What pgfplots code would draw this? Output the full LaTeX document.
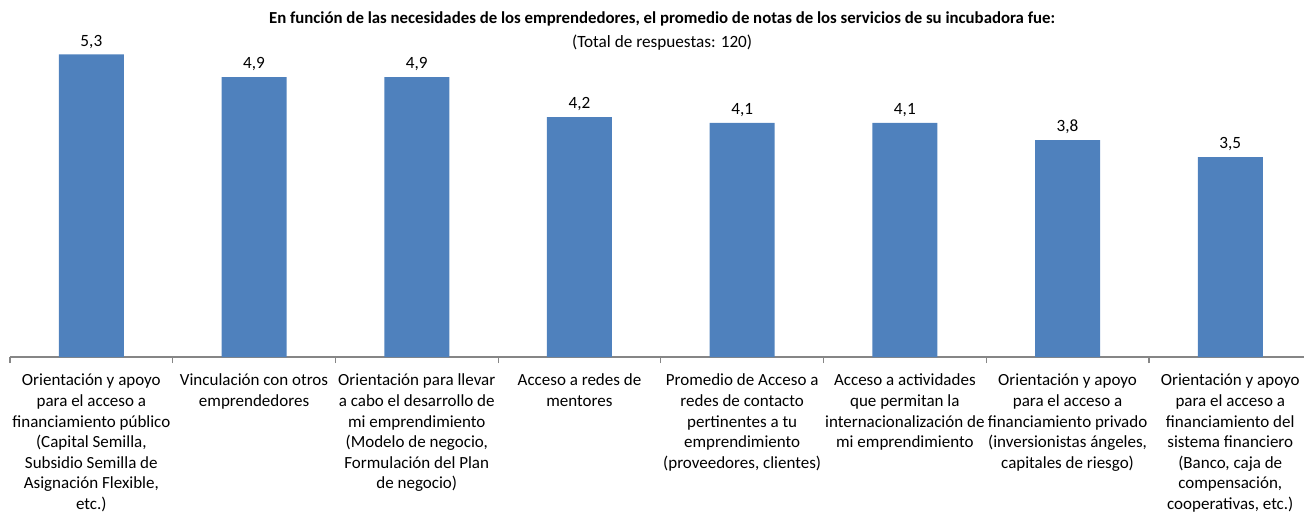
\documentclass[border=0pt]{standalone}
\usepackage{fontspec}
\setmainfont{Carlito}
\usepackage{pgfplots}
\pgfplotsset{compat=1.18}
\definecolor{barblue}{HTML}{4F81BD}
\definecolor{axisgray}{HTML}{868686}
\begin{document}
\fontsize{8.6}{10.5}\selectfont
\begin{tikzpicture}
\begin{axis}[
    scale only axis,
    width=650.8pt, height=171.3pt,
    xmin=-0.5, xmax=7.5, ymin=0, ymax=6,
    axis x line*=bottom, axis y line=none,
    axis line style={axisgray, line width=0.6pt},
    xtick={0,...,7},
    major tick length=0pt,
    minor xtick={-0.5,0.5,...,7.5},
    minor tick length=3pt,
    tick align=outside,
    tick style={axisgray, line width=0.6pt},
    /pgf/number format/assume math mode=true,
    xticklabels={
        {Orientación y apoyo\\para el acceso a\\financiamiento público\\(Capital Semilla,\\Subsidio Semilla de\\Asignación Flexible,\\etc.)},
        {Vinculación con otros\\emprendedores},
        {Orientación para llevar\\a cabo el desarrollo de\\mi emprendimiento\\(Modelo de negocio,\\Formulación del Plan\\de negocio)},
        {Acceso a redes de\\mentores},
        {Promedio de Acceso a\\redes de contacto\\pertinentes a tu\\emprendimiento\\(proveedores, clientes)},
        {Acceso a actividades\\que permitan la\\internacionalización de\\mi emprendimiento},
        {Orientación y apoyo\\para el acceso a\\financiamiento privado\\(inversionistas ángeles,\\capitales de riesgo)},
        {Orientación y apoyo\\para el acceso a\\financiamiento del\\sistema financiero\\(Banco, caja de\\compensación,\\cooperativas, etc.)}
    },
    x tick label style={align=center, anchor=north, yshift=-5.5pt, font=\fontsize{8.5}{10.3}\selectfont},
    ytick=\empty,
    clip=false,
    nodes near coords={\pgfmathprintnumber[fixed,precision=1,fixed zerofill,use comma]{\pgfplotspointmeta}},
    every node near coord/.append style={font=\fontsize{8.6}{10.5}\selectfont, black, yshift=0pt},
]
\addplot[ybar, bar width=32.5pt, fill=barblue, draw=none] coordinates {
    (0,5.3) (1,4.9) (2,4.9) (3,4.2) (4,4.1) (5,4.1) (6,3.8) (7,3.5)
};
\node[font=\bfseries\fontsize{8.4}{10.5}\selectfont, anchor=center] at (axis description cs:0.501,0.988)
    {En función de las necesidades de los emprendedores, el promedio de notas de los servicios de su incubadora fue:};
\node[anchor=center] at (axis description cs:0.501,0.919) {(Total de respuestas: 120)};
\end{axis}
\pgfresetboundingbox
\path[use as bounding box] (-5pt,-79pt) rectangle (647pt,178.5pt);
\end{tikzpicture}
\end{document}
